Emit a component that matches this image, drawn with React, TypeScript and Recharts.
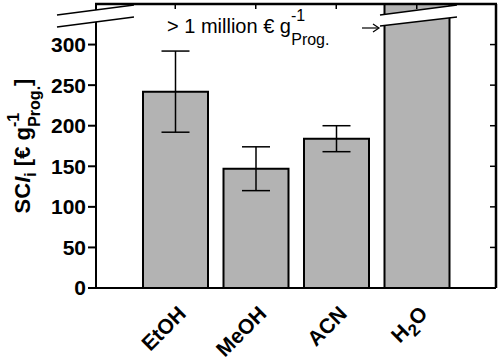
import React from "react";
import { BarChart, Bar, XAxis, YAxis, ErrorBar } from "recharts";

const FONT = '"Liberation Sans", Arial, sans-serif';

// solvents on the x axis
const solvents = ["EtOH", "MeOH", "ACN", "H2O"];
// SCI_i in € per g of product (H2O is > 1 million, drawn off the scale)
const sciValues = [242, 147, 184, 1000000];
const sciErrors = [50, 27, 16, null];
const yTicks = [0, 50, 100, 150, 200, 250, 300];
const yMax = 350;

const data = solvents.map((name, i) => ({
  name,
  value: sciValues[i],
  err: sciErrors[i],
}));

// plot box (chart size minus margins/axis sizes below)
const W = 500;
const H = 359;
const PLOT = { left: 96, right: W - 4, top: 4, bottom: H - 71 };
const PAD = { left: 39, right: 39 };

function SolventTick({ x, y, payload }: any) {
  const label = payload.value;
  return (
    <g transform={`translate(${x + 12},${y + 25})`}>
      <text
        transform="rotate(-45)"
        textAnchor="end"
        fontFamily={FONT}
        fontWeight="bold"
        fontSize={21}
        fill="#000"
      >
        {label === "H2O" ? (
          <>
            <tspan>H</tspan>
            <tspan dy={6} fontSize={17}>2</tspan>
            <tspan dy={-6}>O</tspan>
          </>
        ) : (
          label
        )}
      </text>
    </g>
  );
}

// frame, inner ticks, axis breaks, arrow and labels on top of the chart
function Overlay() {
  const yPix = (v: number) =>
    PLOT.bottom - (v / yMax) * (PLOT.bottom - PLOT.top);
  const band = (PLOT.right - PLOT.left - PAD.left - PAD.right) / solvents.length;
  const xPix = (i: number) => PLOT.left + PAD.left + band * (i + 0.5);

  return (
    <svg
      width={W}
      height={H}
      style={{ position: "absolute", left: 0, top: 0, pointerEvents: "none", display: "block" }}
    >
      {/* top and right frame with inward ticks */}
      <line x1={PLOT.left - 1} y1={PLOT.top} x2={PLOT.right + 1} y2={PLOT.top} stroke="#000" strokeWidth={2.5} />
      <line x1={PLOT.right} y1={PLOT.top} x2={PLOT.right} y2={PLOT.bottom} stroke="#000" strokeWidth={2.5} />
      {yTicks.map((v) => (
        <line key={v} x1={PLOT.right - 6} y1={yPix(v)} x2={PLOT.right} y2={yPix(v)} stroke="#000" strokeWidth={1.5} />
      ))}
      {solvents.map((s, i) => (
        <line key={s} x1={xPix(i)} y1={PLOT.top} x2={xPix(i)} y2={PLOT.top + 5} stroke="#000" strokeWidth={1.5} />
      ))}

      {/* break on the y axis */}
      <polygon points="57,15 134,5 134,17 57,27" fill="#fff" />
      <line x1={57} y1={15} x2={134} y2={5} stroke="#000" strokeWidth={1.5} />
      <line x1={57} y1={27} x2={134} y2={17} stroke="#000" strokeWidth={1.5} />

      {/* break on the H2O bar */}
      <polygon points="380,15 457,5 457,17 380,26" fill="#fff" />
      <line x1={380} y1={15} x2={457} y2={5} stroke="#000" strokeWidth={1.5} />
      <line x1={380} y1={26} x2={457} y2={17} stroke="#000" strokeWidth={1.5} />

      {/* arrow */}
      <line x1={362} y1={28} x2={378} y2={28} stroke="#000" strokeWidth={1.2} />
      <polyline points="373,24 379,28 373,32" fill="none" stroke="#000" strokeWidth={1.2} />

      <text x={167} y={33} fontFamily={FONT} fontSize={20} fill="#000">
        {"> 1 million € g"}
        <tspan dy={-12} fontSize={16}>-1</tspan>
        <tspan dx={-14} dy={24} fontSize={16}>Prog.</tspan>
      </text>

      <text
        transform="translate(30,146) rotate(-90)"
        textAnchor="middle"
        fontFamily={FONT}
        fontWeight="bold"
        fontSize={22}
        fill="#000"
      >
        SC<tspan fontStyle="italic">I</tspan>
        <tspan dy={6} fontSize={16}>i</tspan>
        <tspan dy={-6}>{" [€ g"}</tspan>
        <tspan dy={-11} fontSize={16}>-1</tspan>
        <tspan dx={-14} dy={21} fontSize={16}>Prog.</tspan>
        <tspan dy={-10}>]</tspan>
      </text>
    </svg>
  );
}

export default function App() {
  return (
    <div style={{ position: "relative", width: W, height: H, background: "#fff", overflow: "hidden" }}>
      <style>{`body{margin:0}`}</style>
      <BarChart
        width={W}
        height={H}
        data={data}
        margin={{ top: PLOT.top, right: W - PLOT.right, left: 0, bottom: 0 }}
        barSize={65}
      >
        <XAxis
          dataKey="name"
          height={71}
          padding={PAD}
          tickLine={false}
          tickSize={0}
          axisLine={{ stroke: "#000", strokeWidth: 2 }}
          tick={<SolventTick />}
          interval={0}
        />
        <YAxis
          width={PLOT.left}
          domain={[0, yMax]}
          ticks={yTicks}
          allowDataOverflow
          tickSize={8}
          tickMargin={2}
          tickLine={{ stroke: "#000", strokeWidth: 2 }}
          axisLine={{ stroke: "#000", strokeWidth: 2 }}
          tick={{ fontFamily: FONT, fontWeight: "bold", fontSize: 21, fill: "#000" }}
        />
        <Bar
          dataKey="value"
          fill="#b3b3b3"
          stroke="#000"
          strokeWidth={2}
          isAnimationActive={false}
        >
          <ErrorBar dataKey="err" width={14} stroke="#000" strokeWidth={1.5} />
        </Bar>
      </BarChart>
      <Overlay />
    </div>
  );
}
